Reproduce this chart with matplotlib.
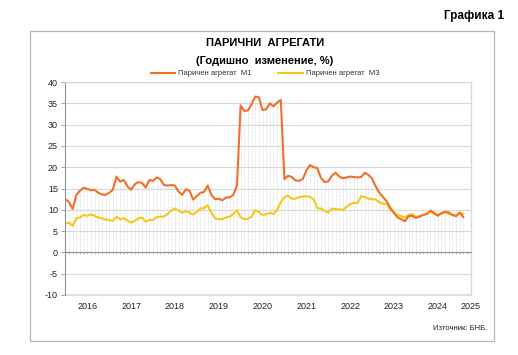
import numpy as np
import matplotlib
matplotlib.use("Agg")
import matplotlib.pyplot as plt
from matplotlib.patches import Rectangle
import matplotlib.transforms as mtransforms

plt.rcParams["font.family"] = ["Liberation Sans", "DejaVu Sans"]
plt.rcParams["axes.unicode_minus"] = False

# monthly data, Jan 2016 onwards
m1 = [12.5, 11.8, 10.2, 13.5, 14.5, 15.2, 14.9, 14.6, 14.7, 14.0, 13.6, 13.5,
      14.0, 14.7, 17.8, 16.6, 17.0, 15.5, 14.7, 16.0, 16.5, 16.3, 15.2, 17.0,
      16.8, 17.6, 17.2, 15.8, 15.7, 15.8, 15.7, 14.3, 13.5, 14.8, 14.5, 12.4,
      13.2, 14.0, 14.2, 15.7, 13.5, 12.5, 12.6, 12.2, 12.9, 12.9, 13.5, 15.7,
      34.5, 33.2, 33.3, 34.8, 36.6, 36.4, 33.4, 33.6, 35.0, 34.3, 35.2, 35.8,
      17.2, 18.0, 17.7, 16.9, 16.8, 17.2, 19.2, 20.5, 20.0, 19.8, 17.5, 16.5,
      16.7, 18.0, 18.7, 17.8, 17.4, 17.6, 17.8, 17.7, 17.6, 17.7, 18.7, 18.2,
      17.3, 15.5, 14.0, 13.0, 12.0, 10.5, 9.2, 8.2, 7.8, 7.3, 8.5, 8.6,
      8.1, 8.4, 8.8, 9.0, 9.8, 9.3, 8.6, 9.2, 9.5, 9.4, 8.8, 8.5,
      9.3, 8.3]
m3 = [6.8, 7.0, 6.2, 8.0, 8.2, 8.8, 8.6, 8.9, 8.6, 8.2, 8.0, 7.7,
      7.6, 7.4, 8.4, 7.8, 8.0, 7.5, 7.0, 7.4, 8.0, 8.2, 7.2, 7.6,
      7.6, 8.3, 8.4, 8.4, 9.0, 9.8, 10.3, 9.8, 9.3, 9.7, 9.3, 8.9,
      9.5, 10.3, 10.4, 11.1, 9.3, 8.0, 7.8, 7.8, 8.2, 8.4, 9.0, 9.9,
      8.2, 7.8, 7.9, 8.4, 9.9, 9.5, 8.8, 8.9, 9.3, 9.0, 10.0, 11.8,
      13.0, 13.3, 12.6, 12.6, 13.0, 13.1, 13.2, 13.0, 12.5, 10.4, 10.3, 9.7,
      9.4, 10.3, 10.2, 10.1, 10.0, 10.7, 11.3, 11.6, 11.6, 13.2, 13.0, 12.6,
      12.5, 12.4, 11.8, 11.4, 11.4, 10.0, 9.5, 8.8, 8.5, 8.2, 8.8, 9.0,
      8.3, 8.5, 8.8, 9.2, 9.6, 9.0, 8.8, 9.2, 9.4, 9.0, 8.8, 8.6,
      9.4, 9.0]
years = ["2016", "2017", "2018", "2019", "2020", "2021", "2022", "2023", "2024", "2025"]
year_pos = [6, 18, 30, 42, 54, 66, 78, 90, 102, 111]

c_m1 = "#f0702a"
c_m3 = "#f7c81a"
grid_c = "#d9d9d9"

x = np.arange(len(m1))
top = np.maximum(m1, m3)

fig = plt.figure(figsize=(5.18, 3.55), dpi=100)
fig.patches.append(Rectangle((30 / 518, 14 / 355), 464 / 518, 310 / 355,
                             transform=fig.transFigure, fill=False,
                             edgecolor="#b4b4b4", lw=0.9))

ax = fig.add_axes([65 / 518, 60 / 355, 406 / 518, 213 / 355])
ax.set_xlim(-0.1, 111.1)
ax.set_ylim(-10, 40)

for yv in range(-5, 45, 5):
    if yv != 0:
        ax.axhline(yv, color=grid_c, lw=0.9, zorder=0)
ax.vlines(x, 0, top, colors="#d0d0d0", linestyles=(0, (1, 1)), lw=0.5, zorder=1)

ax.plot(x, m1, color=c_m1, lw=1.5, label="Паричен агрегат  М1", zorder=3)
ax.plot(x, m3, color=c_m3, lw=1.5, label="Паричен агрегат  М3", zorder=2)

for s in ["top", "right"]:
    ax.spines[s].set_color(grid_c)
    ax.spines[s].set_linewidth(0.9)
ax.spines["left"].set_color("#909090")
ax.spines["left"].set_linewidth(0.8)
ax.spines["bottom"].set_position(("data", 0))
ax.spines["bottom"].set_color("#909090")
ax.spines["bottom"].set_linewidth(0.8)
ax.plot([0, 1], [0, 0], transform=ax.transAxes, color=grid_c, lw=1.2, clip_on=False)

ax.set_yticks(range(-10, 45, 5))
ax.tick_params(axis="y", length=3, width=0.6, color="#909090", labelsize=6.5,
               pad=2, labelcolor="#222222")
ax.set_xticks(np.arange(0, 111, 1))
ax.tick_params(axis="x", length=1.5, width=0.5, color="#a0a0a0", labelbottom=False)

tr = mtransforms.blended_transform_factory(ax.transData, ax.transAxes)
for p, lab in zip(year_pos, years):
    ax.text(p, -0.055, lab, transform=tr, ha="center", va="center",
            fontsize=6.5, color="#222222")

fig.text(474 / 518, 1 - 16 / 355, "Графика 1", ha="center", va="center",
         fontsize=8.5, fontweight="bold")
fig.text(265 / 518, 1 - 42.5 / 355, "ПАРИЧНИ  АГРЕГАТИ", ha="center", va="center",
         fontsize=8, fontweight="bold")
fig.text(265 / 518, 1 - 60.5 / 355, "(Годишно  изменение, %)", ha="center", va="center",
         fontsize=8, fontweight="bold")
fig.text(487 / 518, 1 - 329 / 355, "Източник: БНБ.", ha="right", va="center",
         fontsize=5.5, color="#222222")

leg = fig.legend(loc="center", bbox_to_anchor=(265 / 518, 1 - 73.5 / 355), ncol=2,
                 frameon=False, fontsize=5.5, handlelength=3.2, columnspacing=3.5,
                 handletextpad=0.4)
for t in leg.get_texts():
    t.set_color("#333333")

fig.savefig("out.png", dpi=100)
